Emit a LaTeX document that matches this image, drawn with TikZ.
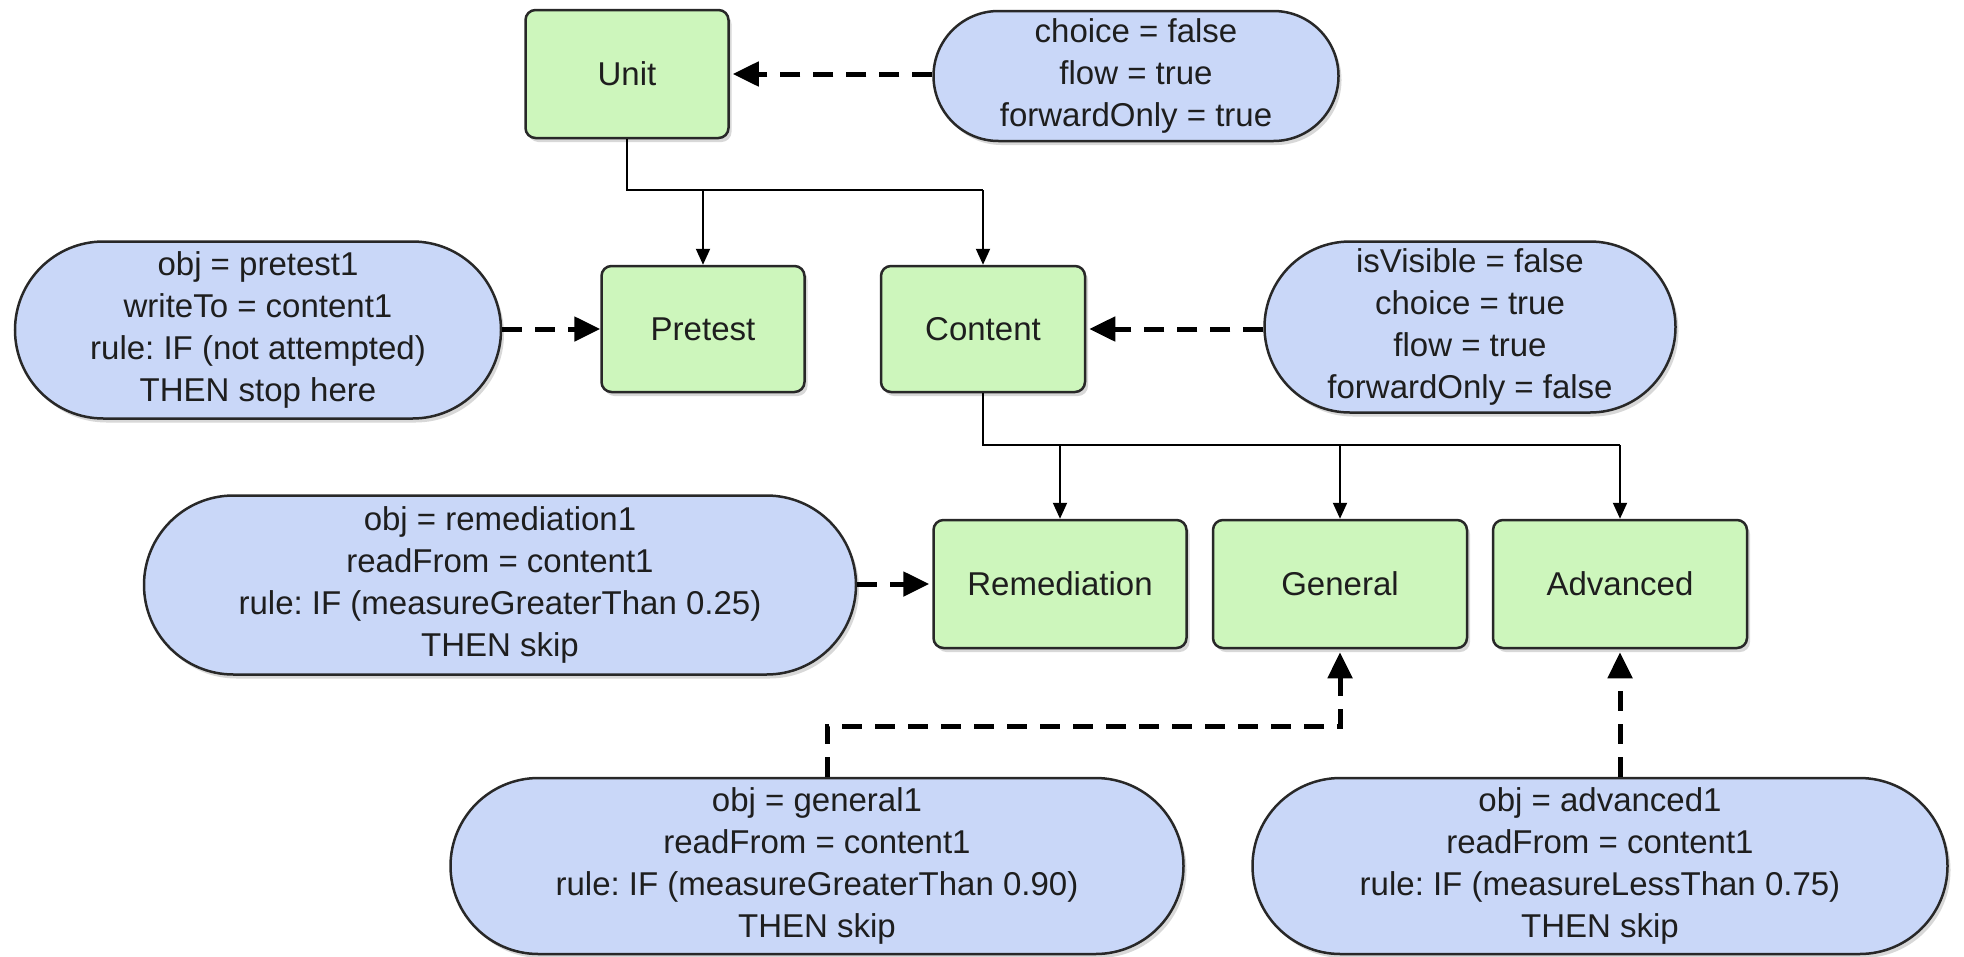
\documentclass[tikz,border=0pt]{standalone}
\usepackage{fontspec}
\setmainfont{Liberation Sans}
\usetikzlibrary{arrows.meta,shapes.misc,shadows}
\definecolor{boxgreen}{RGB}{205,246,188}
\definecolor{pillblue}{RGB}{201,215,248}
\definecolor{edge}{RGB}{40,40,40}
\definecolor{ink}{RGB}{30,30,30}
\frenchspacing
\begin{document}
\begin{tikzpicture}[x=1pt,y=-1pt,
  every node/.style={font=\fontsize{33}{42}\selectfont, text=ink},
  shade/.style={drop shadow={shadow xshift=3pt,shadow yshift=-4pt,fill=black!30}},
  gbox/.style={rectangle, rounded corners=10pt, draw=edge, line width=2.5pt,
    fill=boxgreen, shade, inner sep=0pt},
  pill/.style={rounded rectangle, draw=edge, line width=2.5pt, fill=pillblue,
    align=center, shade, inner sep=0pt},
  link/.style={draw=black, line width=2pt, -{Triangle[length=16pt,width=14pt]}},
  trunk/.style={draw=black, line width=2pt},
  ctl/.style={draw=black, line width=5pt, dash pattern=on 20pt off 13pt,
    -{Triangle[length=26pt,width=24pt]}, shorten >=3pt}
]
\fill[white] (0,0) rectangle (1964,956);
\useasboundingbox (0,0) rectangle (1964,956);

% activity boxes
\node[gbox, minimum width=203pt, minimum height=128pt] (unit) at (627,74) {Unit};
\node[gbox, minimum width=203pt, minimum height=126pt] (pretest) at (703,329) {Pretest};
\node[gbox, minimum width=204pt, minimum height=126pt] (content) at (983,329) {Content};
\node[gbox, minimum width=253pt, minimum height=128pt] (remed) at (1060,584) {Remediation};
\node[gbox, minimum width=254pt, minimum height=128pt] (general) at (1340,584) {General};
\node[gbox, minimum width=254pt, minimum height=128pt] (advanced) at (1620,584) {Advanced};

% control and rule annotations
\node[pill, minimum width=405pt, minimum height=130pt] (upill) at (1136,76)
  {choice = false\\flow = true\\forwardOnly = true};
\node[pill, minimum width=486pt, minimum height=177pt] (ppill) at (258,330)
  {obj = pretest1\\writeTo = content1\\rule: IF (not attempted)\\THEN stop here};
\node[pill, minimum width=411pt, minimum height=171pt] (cpill) at (1470,327)
  {isVisible = false\\choice = true\\flow = true\\forwardOnly = false};
\node[pill, minimum width=712pt, minimum height=179pt] (rpill) at (500,585)
  {obj = remediation1\\readFrom = content1\\rule: IF (measureGreaterThan 0.25)\\THEN skip};
\node[pill, minimum width=733pt, minimum height=176pt] (gpill) at (817,866)
  {obj = general1\\readFrom = content1\\rule: IF (measureGreaterThan 0.90)\\THEN skip};
\node[pill, minimum width=695pt, minimum height=176pt] (apill) at (1600,866)
  {obj = advanced1\\readFrom = content1\\rule: IF (measureLessThan 0.75)\\THEN skip};

% tree of activities
\coordinate (uj) at (627,190);
\draw[trunk] (unit.south) -- (uj) -- (uj -| content.north);
\draw[link] (uj -| pretest.north) -- (pretest.north);
\draw[link] (uj -| content.north) -- (content.north);

\coordinate (cj) at (983,445);
\draw[trunk] (content.south) -- (cj) -- (cj -| advanced.north);
\draw[link] (cj -| remed.north) -- (remed.north);
\draw[link] (cj -| general.north) -- (general.north);
\draw[link] (cj -| advanced.north) -- (advanced.north);

% attached controls and rules
\draw[ctl] (unit.east -| upill.west) -- (unit.east);
\draw[ctl, shorten >=0pt] (pretest.west -| ppill.east) -- (pretest.west);
\draw[ctl] (content.east -| cpill.west) -- (content.east);
\draw[ctl] (remed.west -| rpill.east) -- (remed.west);
\coordinate (gk) at (827,726);
\draw[ctl] (gpill.north -| gk) -- (gk) -| (general.south);
\draw[ctl] (advanced.south |- apill.north) -- (advanced.south);
\end{tikzpicture}
\end{document}
